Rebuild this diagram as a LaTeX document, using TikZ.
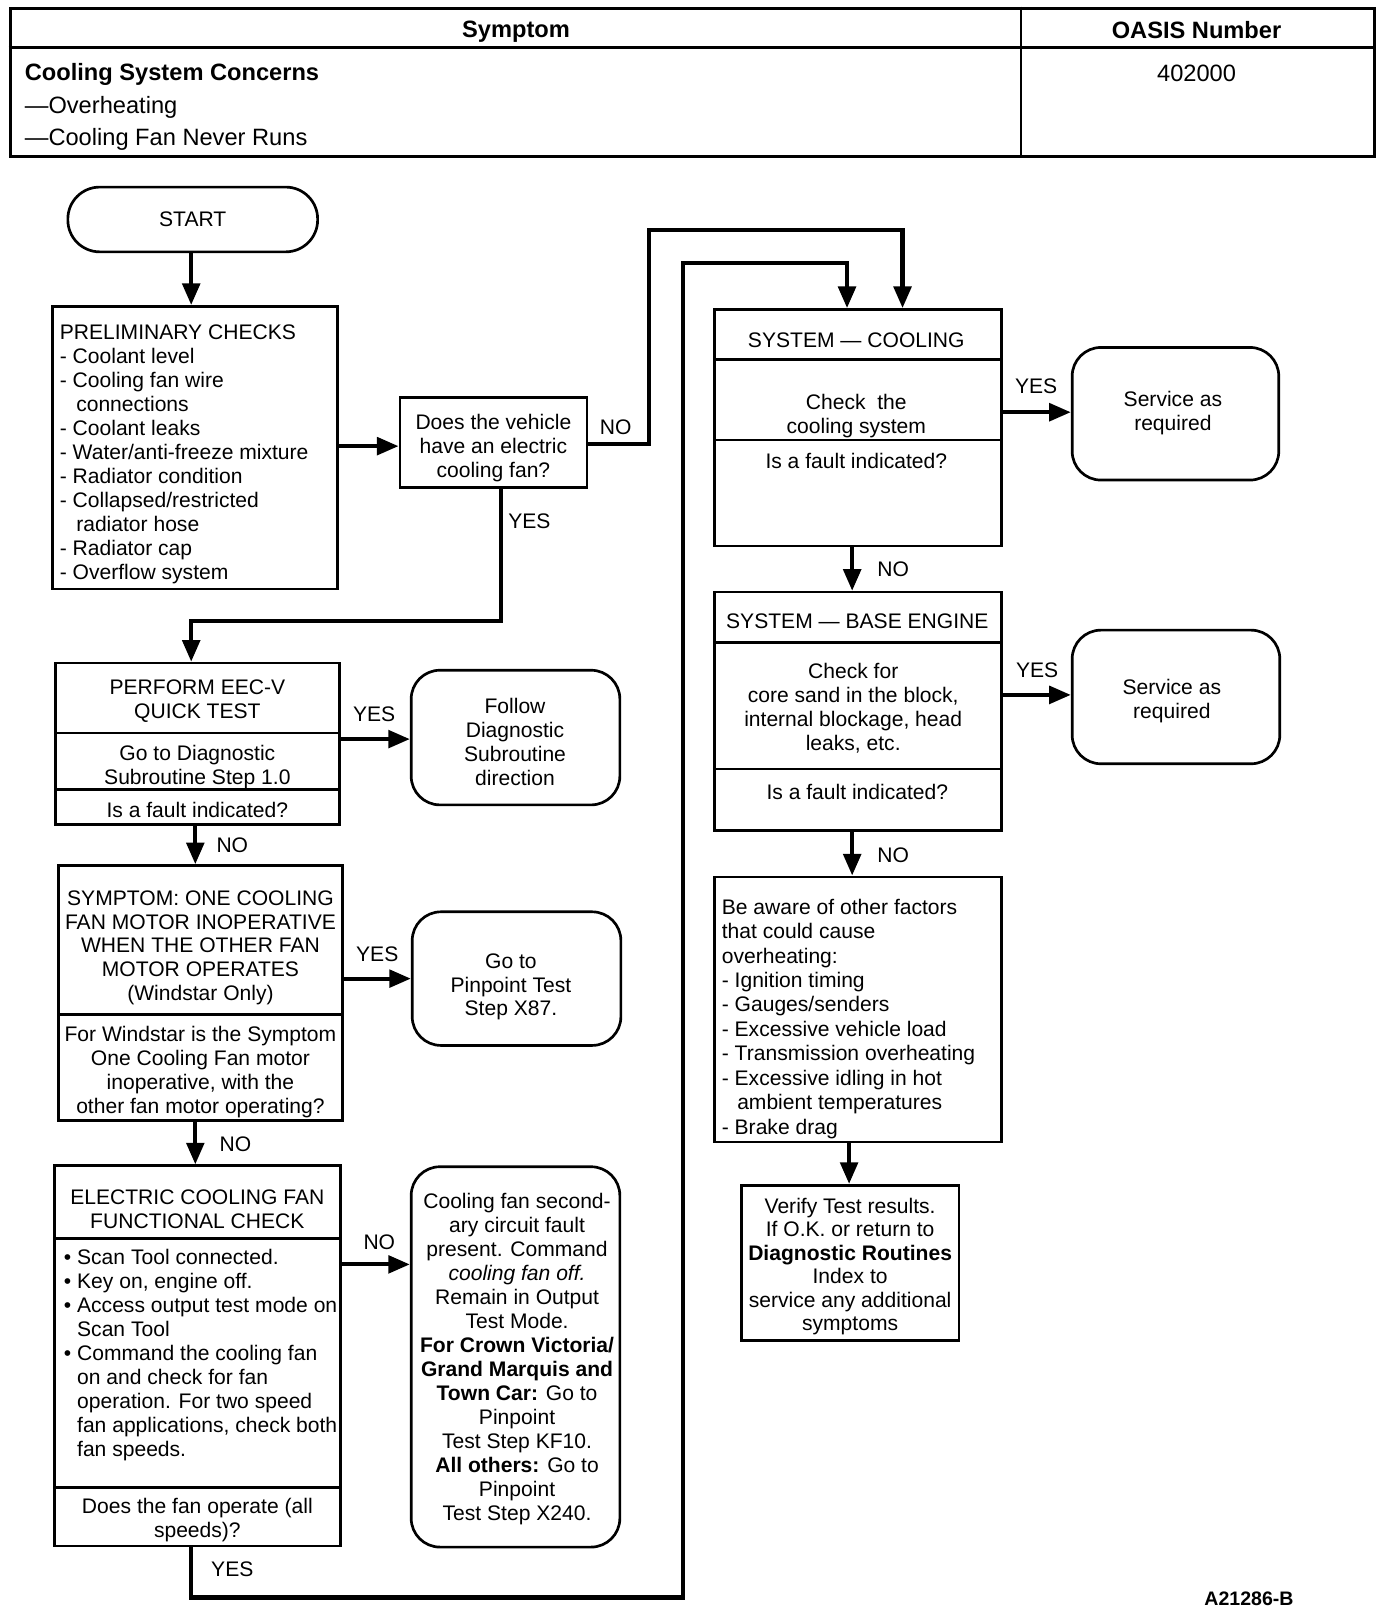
\documentclass[tikz,border=0pt]{standalone}
\usepackage{fontspec}
\setmainfont{Liberation Sans}
\usetikzlibrary{arrows.meta,fit}
\newcommand\bodyfs{\fontsize{20.5pt}{23.3pt}\selectfont}
\newcommand\headfs{\fontsize{23pt}{32pt}\selectfont}
\begin{document}
\begin{tikzpicture}[x=1pt,y=-1pt,
  boxst/.style={draw, line width=2.6pt, inner sep=0pt},
  rbox/.style={boxst, rounded corners=28pt},
  divline/.style={line width=2.6pt},
  conn/.style={line width=4pt},
  arr/.style={conn, -{Triangle[length=21pt,width=17pt]}},
  txt/.style={font=\bodyfs, align=center, inner sep=0pt},
  ltxt/.style={font=\bodyfs, align=left, inner sep=0pt, anchor=west},
  lbl/.style={font=\bodyfs, inner sep=0pt}]
\useasboundingbox (0,0) rectangle (1354,1574);

% ---------- header table ----------
\node[draw, line width=3pt, inner sep=0pt, fit={(10,8) (1337,152)}] (tbl) {};
\draw[line width=2.5pt] (tbl.west |- 0,46) -- (tbl.east |- 0,46);
\draw[line width=2.2pt] (tbl.north -| 993,0) -- (tbl.south -| 993,0);
\node[font=\headfs\bfseries, inner sep=0pt] (hsym) at (502,31) {Symptom};
\node[font=\headfs\bfseries, inner sep=0pt] (hoas) at (1164,29) {OASIS Number};
\node[font=\headfs, align=left, anchor=west, inner sep=0pt] (hrows) at (24,104)
  {\textbf{Cooling System Concerns}\\—Overheating\\—Cooling Fan Never Runs};
\node[font=\headfs, inner sep=0pt] (hnum) at (1164,71) {402000};

% ---------- boxes ----------
\node[boxst, rounded corners=31pt, fit={(66,182) (309,245)}] (start) {};
\node[txt] (starttxt) at (start.center) {START};

\node[boxst, fit={(51,298) (328,573)}] (prelim) {};
\node[ltxt] (prelimtxt) at (58,442) {PRELIMINARY CHECKS\\- Coolant level\\- Cooling fan wire\\\hspace*{16pt}connections\\- Coolant leaks\\- Water/anti-freeze mixture\\- Radiator condition\\- Collapsed/restricted\\\hspace*{16pt}radiator hose\\- Radiator cap\\- Overflow system};

\node[boxst, fit={(389,387) (571,474)}] (q1) {};
\node[txt] (q1txt) at (480,436) {Does the vehicle\\have an electric\\cooling fan?};

\node[boxst, fit={(54,645) (330,802)}] (eec) {};
\draw[divline] (eec.west |- 0,713) -- (eec.east |- 0,713);
\draw[divline] (eec.west |- 0,768) -- (eec.east |- 0,768);
\node[txt] (eectitle) at (192,682) {PERFORM EEC-V\\QUICK TEST};
\node[txt] (eecbody) at (192,746) {Go to Diagnostic\\Subroutine Step 1.0};
\node[txt] (eecq) at (192,788) {Is a fault indicated?};

\node[rbox, fit={(400,652) (603,783)}] (follow) {};
\node[txt] (followtxt) at (501,722) {Follow\\Diagnostic\\Subroutine\\direction};

\node[boxst, fit={(57,842) (333,1090)}] (symp) {};
\draw[divline] (symp.west |- 0,987) -- (symp.east |- 0,987);
\node[txt] (symptitle) at (195,922) {SYMPTOM: ONE COOLING\\FAN MOTOR INOPERATIVE\\WHEN THE OTHER FAN\\MOTOR OPERATES\\(Windstar Only)};
\node[txt] (sympq) at (195,1043) {For Windstar is the Symptom\\One Cooling Fan motor\\inoperative, with the\\other fan motor operating?};

\node[rbox, fit={(401,887) (604,1017)}] (pin) {};
\node[txt] (pintxt) at (497,960) {Go to\\Pinpoint Test\\Step X87.};

\node[boxst, fit={(53,1134) (331,1504)}] (elec) {};
\draw[divline] (elec.west |- 0,1205) -- (elec.east |- 0,1205);
\draw[divline] (elec.west |- 0,1447) -- (elec.east |- 0,1447);
\node[txt] (electitle) at (192,1176) {ELECTRIC COOLING FAN\\FUNCTIONAL CHECK};
\node[ltxt] (elecbody) at (62,1318) {•\ Scan Tool connected.\\•\ Key on, engine off.\\•\ Access output test mode on\\\hphantom{•\ }Scan Tool\\•\ Command the cooling fan\\\hphantom{•\ }on and check for fan\\\hphantom{•\ }operation. For two speed\\\hphantom{•\ }fan applications, check both\\\hphantom{•\ }fan speeds.};
\node[txt] (elecq) at (192,1479) {Does the fan operate (all\\speeds)?};

\node[rbox, fit={(400,1135) (603,1505)}] (sec) {};
\node[txt] (sectxt) at (503,1322) {Cooling fan second-\\ary circuit fault\\present. Command\\\textit{cooling fan off.}\\Remain in Output\\Test Mode.\\\textbf{For Crown Victoria/}\\\textbf{Grand Marquis and}\\\textbf{Town Car:} Go to\\Pinpoint\\Test Step KF10.\\\textbf{All others:} Go to\\Pinpoint\\Test Step X240.};

\node[boxst, fit={(695,301) (974,531)}] (cool) {};
\draw[divline] (cool.west |- 0,350) -- (cool.east |- 0,350);
\draw[divline] (cool.west |- 0,428) -- (cool.east |- 0,428);
\node[txt] (cooltitle) at (833,331) {SYSTEM — COOLING};
\node[txt] (coolbody) at (833,405) {Check\ \ the\\cooling system};
\node[txt] (coolq) at (833,448) {Is a fault indicated?};

\node[rbox, fit={(1043,338) (1244,467)}] (svc1) {};
\node[txt] (svc1txt) at (1141,402) {Service as\\required};

\node[boxst, fit={(695,576) (974,808)}] (base) {};
\draw[divline] (base.west |- 0,625) -- (base.east |- 0,625);
\draw[divline] (base.west |- 0,748) -- (base.east |- 0,748);
\node[txt] (basetitle) at (834,604) {SYSTEM — BASE ENGINE};
\node[txt] (basebody) at (830,689) {Check for\\core sand in the block,\\internal blockage, head\\leaks, etc.};
\node[txt] (baseq) at (834,770) {Is a fault indicated?};

\node[rbox, fit={(1043,613) (1245,743)}] (svc2) {};
\node[txt] (svc2txt) at (1140,682) {Service as\\required};

\node[boxst, fit={(695,853) (974,1111)}] (aware) {};
\node[ltxt, font=\fontsize{20.5pt}{23.8pt}\selectfont] (awaretxt) at (702,991) {Be aware of other factors\\that could cause\\overheating:\\- Ignition timing\\- Gauges/senders\\- Excessive vehicle load\\- Transmission overheating\\- Excessive idling in hot\\\hspace*{15pt}ambient temperatures\\- Brake drag};

\node[boxst, fit={(721,1153) (933,1304)}] (verify) {};
\node[txt, font=\fontsize{20.5pt}{22.8pt}\selectfont] (verifytxt) at (827,1232) {Verify Test results.\\If O.K. or return to\\\textbf{Diagnostic Routines}\\Index to\\service any additional\\symptoms};

\node[font=\fontsize{19pt}{22pt}\selectfont\bfseries, inner sep=0pt] (figid) at (1215,1555) {A21286-B};

% ---------- connectors ----------
\coordinate (c1) at (631,224);
\coordinate (c2) at (186,604);
\coordinate (c3) at (664,1554);
\coordinate (c4) at (664,256);

\draw[arr] (start.south -| 186,0) -- (prelim.north -| 186,0);
\draw[arr] (prelim.east |- 0,434) -- (q1.west |- 0,434);
\draw[arr] (q1.east |- 0,432) -| (c1) -| (cool.north -| 878,0);
\draw[arr] (q1.south -| 487,0) |- (c2) -- (eec.north -| c2);
\draw[arr] (eec.east |- 0,719) -- (follow.west |- 0,719);
\draw[arr] (eec.south -| 190,0) -- (symp.north -| 190,0);
\draw[arr] (symp.east |- 0,952) -- (pin.west |- 0,952);
\draw[arr] (symp.south -| 190,0) -- (elec.north -| 190,0);
\draw[arr] (elec.east |- 0,1230) -- (sec.west |- 0,1230);
\draw[arr] (elec.south -| 186,0) |- (c3) -- (c4) -| (cool.north -| 824,0);
\draw[arr] (cool.east |- 0,401) -- (svc1.west |- 0,401);
\draw[arr] (cool.south -| 829,0) -- (base.north -| 829,0);
\draw[arr] (base.east |- 0,676) -- (svc2.west |- 0,676);
\draw[arr] (base.south -| 829,0) -- (aware.north -| 829,0);
\draw[arr] (aware.south -| 826,0) -- (verify.north -| 826,0);

% ---------- labels ----------
\node[lbl] (lno1) at (599,416) {NO};
\node[lbl] (lyes1) at (515,507) {YES};
\node[lbl] (lyes2) at (364,695) {YES};
\node[lbl] (lno2) at (226,822) {NO};
\node[lbl] (lyes3) at (367,928) {YES};
\node[lbl] (lno3) at (229,1113) {NO};
\node[lbl] (lno4) at (369,1208) {NO};
\node[lbl] (lyes4) at (226,1527) {YES};
\node[lbl] (lyes5) at (1008,376) {YES};
\node[lbl] (lno5) at (869,554) {NO};
\node[lbl] (lyes6) at (1009,652) {YES};
\node[lbl] (lno6) at (869,832) {NO};
\end{tikzpicture}
\end{document}
